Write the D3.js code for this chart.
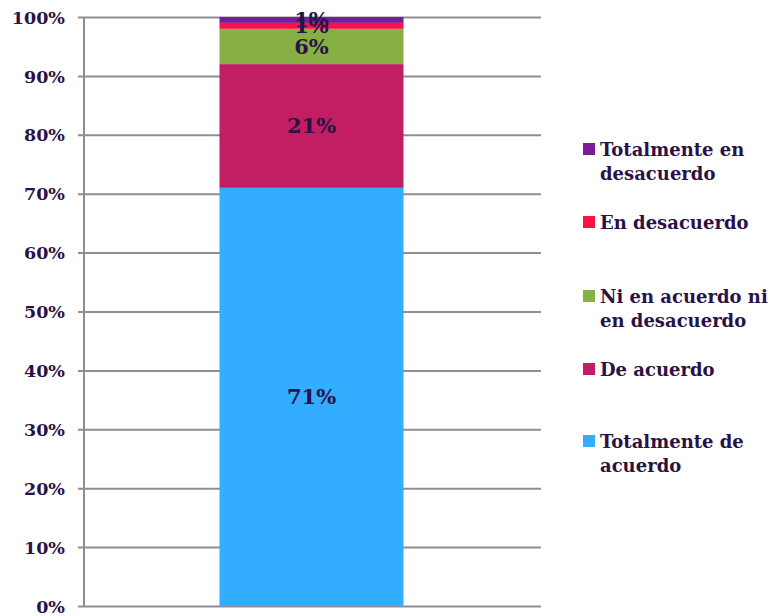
<!DOCTYPE html>
<html>
<head>
<meta charset="utf-8">
<script src="https://cdn.jsdelivr.net/npm/d3@7/dist/d3.min.js"></script>
<style>
  body { margin: 0; background: #fff; }
  svg text { font-family: "DejaVu Serif", "Liberation Serif", serif; font-weight: bold; fill: #2b1246; }
</style>
</head>
<body>
<svg id="chart" width="773" height="616"></svg>
<script>
// Survey answers, stacked from the bottom of the single bar upward
const categories = ["Totalmente de acuerdo", "De acuerdo", "Ni en acuerdo ni en desacuerdo", "En desacuerdo", "Totalmente en desacuerdo"];
const values = [71, 21, 6, 1, 1];
const colors = ["#33adff", "#c11e63", "#86b043", "#ff1144", "#7a1b9a"];
const tickValues = [0, 10, 20, 30, 40, 50, 60, 70, 80, 90, 100];

// Legend lines, listed top to bottom
const legendLines = [
  ["Totalmente en", "desacuerdo"],
  ["En desacuerdo"],
  ["Ni en acuerdo ni", "en desacuerdo"],
  ["De acuerdo"],
  ["Totalmente de", "acuerdo"]
];
const legendColors = ["#7a1b9a", "#ff1144", "#86b043", "#c11e63", "#33adff"];

const svg = d3.select("#chart");
const plotLeft = 84, plotRight = 541, plotTop = 17, plotBottom = 606;

const y = d3.scaleLinear().domain([0, 100]).range([plotBottom, plotTop]);
const x = d3.scaleBand().domain(["bar"]).range([plotLeft, plotRight]).paddingInner(0).paddingOuter(0.5);

// Gridlines and left axis
const yAxis = d3.axisLeft(y).tickValues(tickValues).tickFormat(d => d + "%").tickSize(-(plotRight - plotLeft)).tickPadding(19);
const gAxis = svg.append("g").attr("transform", `translate(${plotLeft},0)`).call(yAxis);
gAxis.select(".domain").remove();
gAxis.selectAll(".tick line").attr("stroke", "#8f8d97").attr("stroke-width", 2).attr("x1", -6);
gAxis.selectAll(".tick text").attr("font-size", 17.5).attr("dy", "0.35em");
svg.append("line").attr("x1", plotLeft).attr("x2", plotLeft).attr("y1", plotTop).attr("y2", plotBottom)
  .attr("stroke", "#8f8d97").attr("stroke-width", 2);

// Stacked segments
const stacked = [];
let acc = 0;
values.forEach((v, i) => { stacked.push({ v, y0: acc, y1: acc + v, c: colors[i] }); acc += v; });

const bw = 184;
const bx = x("bar") + x.bandwidth() / 2 - bw / 2 - 1;
svg.append("g").selectAll("rect").data(stacked).join("rect")
  .attr("x", bx).attr("width", bw)
  .attr("y", d => y(d.y1)).attr("height", d => y(d.y0) - y(d.y1))
  .attr("fill", d => d.c);

svg.append("g").selectAll("text").data(stacked).join("text")
  .attr("x", bx + bw / 2).attr("y", d => y((d.y0 + d.y1) / 2))
  .attr("text-anchor", "middle").attr("dy", "0.35em").attr("font-size", 21)
  .text(d => d.v + "%");

// Legend
const legendY = [150, 223, 297, 370, 442];
const lg = svg.append("g");
legendLines.forEach((lines, i) => {
  lg.append("rect").attr("x", 583).attr("y", legendY[i] - 7).attr("width", 12).attr("height", 12).attr("fill", legendColors[i]);
  lines.forEach((t, j) => {
    lg.append("text").attr("x", 600).attr("y", legendY[i] + j * 24).attr("dy", "0.35em")
      .attr("font-size", 18).text(t);
  });
});
</script>
</body>
</html>
